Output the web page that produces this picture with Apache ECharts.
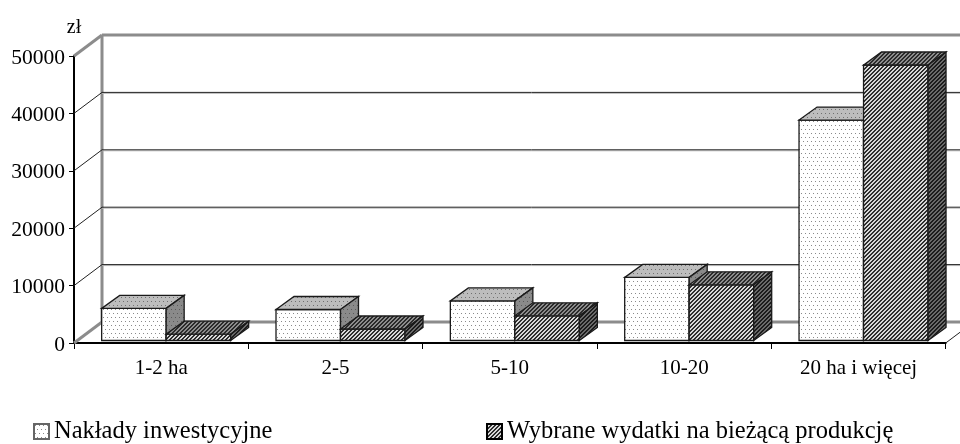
<!DOCTYPE html>
<html><head><meta charset="utf-8">
<style>html,body{margin:0;padding:0;background:#fff}#c{width:960px;height:444px}</style>
<script src="https://cdn.jsdelivr.net/npm/echarts@6/dist/echarts.min.js"></script>
</head><body><div id="c"></div>
<script>
const categories = ['1-2 ha', '2-5', '5-10', '10-20', '20 ha i więcej'];
const investment = [5600, 5400, 6900, 11000, 38400];
const currentCosts = [1100, 2000, 4300, 9700, 48000];
const yTicks = [0, 10000, 20000, 30000, 40000, 50000];
const seriesNames = ['Nakłady inwestycyjne', 'Wybrane wydatki na bieżącą produkcję'];

const FONT = '"Liberation Serif","Times New Roman",serif';
const WALL = [28, -21];      // depth of the box
const BAR_D = [18, -13];     // depth of a bar
const FRONT = [5, -2.5];     // bar front plane offset
const BAR_W = 64.5;

function dots(bg, dot) {
  const c = document.createElement('canvas'); c.width = 8; c.height = 8;
  const g = c.getContext('2d');
  g.fillStyle = bg; g.fillRect(0, 0, 8, 8);
  g.fillStyle = dot;
  g.fillRect(1, 1, 1, 1); g.fillRect(5, 1, 1, 1);
  g.fillRect(3, 5, 1, 1); g.fillRect(7, 5, 1, 1);
  return { image: c, repeat: 'repeat' };
}
function hatch(light, dark) {
  const c = document.createElement('canvas'); c.width = 4; c.height = 4;
  const g = c.getContext('2d');
  g.fillStyle = light; g.fillRect(0, 0, 4, 4);
  g.fillStyle = dark;
  for (let y = 0; y < 4; y++) for (let x = 0; x < 4; x++)
    if (((x + y) % 4) < 2) g.fillRect(x, y, 1, 1);
  return { image: c, repeat: 'repeat' };
}
const faces = [
  { front: dots('#ffffff', '#8a8a8a'), top: dots('#bdbdbd', '#707070'), side: dots('#8a8a8a', '#5a5a5a') },
  { front: hatch('#d8d8d8', '#2e2e2e'), top: hatch('#8c8c8c', '#2a2a2a'), side: hatch('#6a6a6a', '#1c1c1c') }
];

function quad(pts, fill) {
  return { type: 'polygon', shape: { points: pts }, style: { fill, stroke: '#1a1a1a', lineWidth: 1.3, lineJoin: 'miter' } };
}
function barRender(idx) {
  return function (params, api) {
    const p = api.coord([api.value(0), api.value(1)]);
    const b = api.coord([api.value(0), 0]);
    const x0 = p[0] + FRONT[0] + (idx === 0 ? -BAR_W : 0);
    const x1 = x0 + BAR_W;
    const yTop = p[1] + FRONT[1], yBot = b[1] + FRONT[1];
    const [dx, dy] = BAR_D;
    const f = faces[idx];
    return {
      type: 'group',
      children: [
        quad([[x0, yBot], [x1, yBot], [x1, yTop], [x0, yTop]], f.front),
        quad([[x0, yTop], [x1, yTop], [x1 + dx, yTop + dy], [x0 + dx, yTop + dy]], f.top),
        quad([[x1, yBot], [x1 + dx, yBot + dy], [x1 + dx, yTop + dy], [x1, yTop]], f.side)
      ]
    };
  };
}
function wallRender(params, api) {
  const v = api.value(0);
  const y = api.coord([0, v])[1];
  const cs = params.coordSys;
  const left = cs.x, right = cs.x + cs.width;
  const [dx, dy] = WALL;
  const isEdge = v === 0 || v === 50000;
  const children = [];
  const grey = { stroke: '#8c8c8c', lineWidth: 3 };
  const thin = { stroke: '#222222', lineWidth: 1 };
  const st = isEdge ? grey : thin;
  children.push({ type: 'line', shape: { x1: left, y1: y, x2: left + dx, y2: y + dy }, style: st });
  if (!isEdge) children.push({ type: 'line', shape: { x1: left + dx, y1: y + dy + 1, x2: right + dx, y2: y + dy + 1 }, style: { stroke: '#bbbbbb', lineWidth: 1 } });
  children.push({ type: 'line', shape: { x1: left + dx, y1: y + dy, x2: right + dx, y2: y + dy }, style: st });
  children.push({ type: 'line', shape: { x1: right, y1: y, x2: right + dx, y2: y + dy }, style: v === 0 ? thin : { stroke: 'none' } });
  if (v === 0) {
    const top = cs.y + dy;
    children.push({ type: 'line', shape: { x1: left + dx, y1: y + dy, x2: left + dx, y2: top }, style: grey });
  }
  return { type: 'group', children };
}

const chart = echarts.init(document.getElementById('c'), null, { renderer: 'canvas' });
chart.setOption({
  animation: false,
  backgroundColor: '#fff',
  textStyle: { fontFamily: FONT, color: '#000' },
  grid: { left: 74, right: 14.3, top: 56, bottom: 101, containLabel: false },
  xAxis: {
    type: 'category', data: categories, boundaryGap: true,
    axisLine: { lineStyle: { color: '#000', width: 2 } },
    axisTick: { show: true, length: 6, alignWithLabel: false, lineStyle: { color: '#000', width: 1 } },
    axisLabel: { color: '#000', fontFamily: FONT, fontSize: 21, margin: 15, interval: 0 }
  },
  yAxis: {
    type: 'value', min: 0, max: 50000, interval: 10000,
    name: 'zł', nameLocation: 'end', nameGap: 18,
    nameTextStyle: { color: '#000', fontFamily: FONT, fontSize: 20, align: 'center' },
    axisLine: { show: true, lineStyle: { color: '#000', width: 2 } },
    axisTick: { show: true, length: 5, lineStyle: { color: '#000', width: 1 } },
    axisLabel: { color: '#000', fontFamily: FONT, fontSize: 21.5, margin: 9, formatter: v => '{a|' + v + '}',
      rich: { a: { color: '#000', fontFamily: FONT, fontSize: 21.5, padding: [4, 0, 0, 0] } } },
    splitLine: { show: false }
  },
  legend: [
    { left: 33, top: 419, itemWidth: 15, itemHeight: 15, itemGap: 6, data: [{ name: seriesNames[0], icon: 'rect' }],
      textStyle: { color: '#000', fontFamily: FONT, fontSize: 24.5 }, selectedMode: false, padding: 0 },
    { left: 486, top: 419, itemWidth: 15, itemHeight: 15, itemGap: 6, data: [{ name: seriesNames[1], icon: 'rect' }],
      textStyle: { color: '#000', fontFamily: FONT, fontSize: 24.5 }, selectedMode: false, padding: 0 }
  ],
  series: [
    { type: 'custom', name: 'wall', silent: true, z: 1, clip: false, renderItem: wallRender,
      coordinateSystem: 'cartesian2d', encode: { x: 1, y: 0 }, data: yTicks.map(v => [v, 0]) },
    { type: 'custom', name: seriesNames[0], z: 3, renderItem: barRender(0), clip: false,
      itemStyle: { color: faces[0].front, borderColor: '#666', borderWidth: 1 },
      encode: { x: 0, y: 1 }, data: investment.map((v, i) => [i, v]) },
    { type: 'custom', name: seriesNames[1], z: 4, renderItem: barRender(1), clip: false,
      itemStyle: { color: faces[1].front, borderColor: '#000', borderWidth: 1 },
      encode: { x: 0, y: 1 }, data: currentCosts.map((v, i) => [i, v]) }
  ]
});
</script></body></html>
